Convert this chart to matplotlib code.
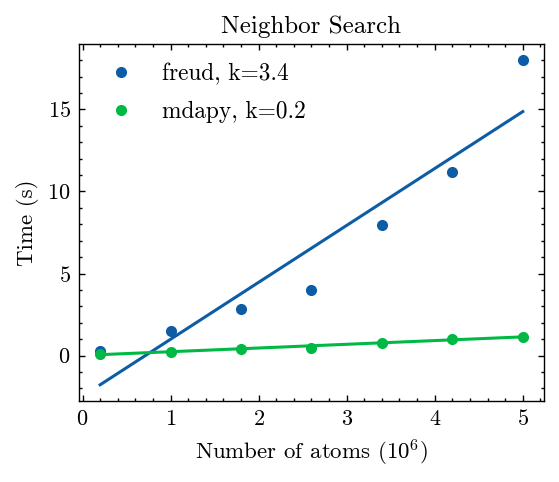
import numpy as np
import matplotlib
matplotlib.use('Agg')
import matplotlib.pyplot as plt

# -------------------------------
# Daten
# -------------------------------
atoms = [0.2, 1.0, 1.8, 2.6, 3.4, 4.2, 5.0]  # 10^6 Atome
freud_time = [0.3, 1.48, 2.85, 4.0, 7.97, 11.2, 18.0]
mdapy_time = [0.1, 0.22, 0.43, 0.49, 0.79, 1.04, 1.12]
labels = ['freud, k=3.4', 'mdapy, k=0.2']
colors = ['#0C5DA5', '#00B945']

# -------------------------------
# Stil (science-aehnlich)
# -------------------------------
plt.rcParams.update({
    'font.family': 'cmr10',
    'mathtext.fontset': 'cm',
    'axes.formatter.use_mathtext': True,
    'font.size': 16.5,
    'axes.titlesize': 18,
    'axes.labelsize': 16.5,
    'xtick.labelsize': 16,
    'ytick.labelsize': 16,
    'legend.fontsize': 16.8,
    'axes.linewidth': 1.0,
    'xtick.direction': 'in',
    'ytick.direction': 'in',
    'xtick.top': True,
    'ytick.right': True,
    'xtick.minor.visible': True,
    'ytick.minor.visible': True,
    'xtick.major.size': 4,
    'ytick.major.size': 4,
    'xtick.minor.size': 2,
    'ytick.minor.size': 2,
    'xtick.major.width': 1.0,
    'ytick.major.width': 1.0,
    'xtick.minor.width': 1.0,
    'ytick.minor.width': 1.0,
    'legend.frameon': False,
})

fig = plt.figure(figsize=(5.59, 4.82), dpi=100)
ax = fig.add_axes([0.1413, 0.168, 0.8317, 0.741])

x = np.array(atoms)
for y, lab, c in zip([freud_time, mdapy_time], labels, colors):
    y = np.array(y)
    k, b = np.polyfit(x, y, 1)
    ax.plot(x, y, 'o', color=c, markersize=7, label=lab)
    ax.plot(x, k * x + b, '-', color=c, linewidth=2.2)

ax.set_title('Neighbor Search', pad=8)
ax.set_xlabel(r'Number of atoms ($10^6$)', labelpad=6)
ax.set_ylabel('Time (s)', labelpad=6)
ax.tick_params(axis='both', which='major', pad=6)
ax.set_yticks([0, 5, 10, 15])
ax.legend(loc='upper left', handletextpad=0.74, borderaxespad=0.42,
          labelspacing=0.68)

fig.savefig('out.png', dpi=100)
